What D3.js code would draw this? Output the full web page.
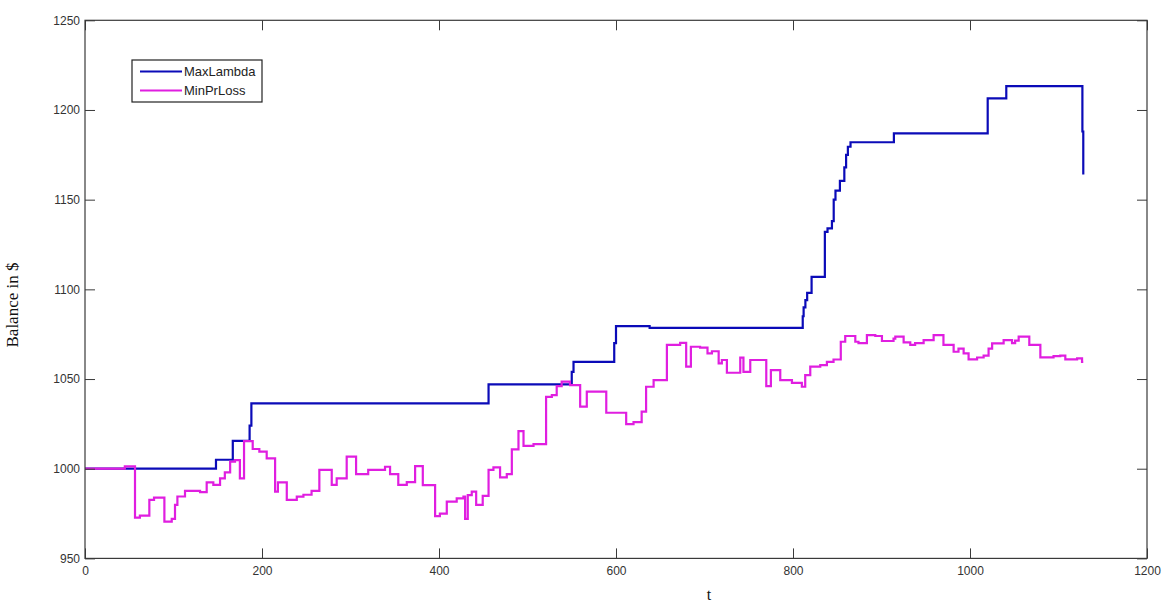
<!DOCTYPE html>
<html>
<head>
<meta charset="utf-8">
<script src="https://cdn.jsdelivr.net/npm/d3@7"></script>
<style>
  html, body { margin: 0; padding: 0; background: #fff; }
  svg { display: block; }
</style>
</head>
<body>
<svg id="chart" width="1162" height="606"></svg>
<script>
// ---- data ----
const seriesNames = ["MaxLambda", "MinPrLoss"];
const xTicks = [0, 200, 400, 600, 800, 1000, 1200];
const yTicks = [950, 1000, 1050, 1100, 1150, 1200, 1250];

const lambdaT = [0, 148, 167, 186, 188, 456, 550, 552, 598, 600, 638, 811, 812, 814, 816, 821, 836, 839, 844, 846, 848, 853, 858, 860, 862, 865, 914, 1020, 1041, 1127, 1128];
const lambdaV = [1000, 1005, 1015.5, 1024, 1036.4, 1047, 1054, 1059.6, 1070, 1079.5, 1078.5, 1085, 1090, 1094, 1098, 1107, 1132, 1134, 1138, 1150, 1155, 1160.5, 1168, 1175, 1179.5, 1182, 1187, 1206.5, 1213.3, 1188, 1164];

const lossT = [0, 45, 56.5, 62, 72.7, 78, 89.7, 98, 101.7, 104.4,
  113, 130, 137.5, 145, 152.6, 158, 164, 169.5, 175, 179.7,
  189.5, 197, 205.3, 214.8, 218, 228, 239.3, 246.8, 256, 264.8,
  278.8, 284.4, 295.7, 306.3, 320, 339, 344.7, 354, 363.6, 373,
  381.7, 395.6, 401, 408.8, 420, 427.6, 429.5, 432.5, 437, 442,
  449.4, 456, 461.5, 469, 476.6, 482.3, 489.8, 495.5, 506.8, 521,
  527.5, 533, 538.6, 548, 559.5, 567, 589, 611.5, 619.8, 629,
  634, 642.5, 657.5, 672.5, 679.3, 684.6, 695, 703.4, 708.4, 716,
  719.6, 725.3, 740.4, 744, 751.7, 769.8, 775, 785.6, 798.8, 810,
  813.8, 819.5, 830.8, 838.3, 845.8, 854, 859, 870.4, 874, 883.5,
  893, 900.5, 913.6, 915.6, 925, 932.5, 938, 947.6, 958.9, 970,
  981.5, 987, 992.8, 998.4, 1008, 1015.4, 1021, 1025, 1038, 1047.5,
  1051, 1055, 1067, 1079.5, 1094.4, 1102, 1107.7, 1121, 1126.6, 1128];
const lossV = [1000, 1001.3, 972.7, 973.8, 982.6, 983.9, 970.5, 972, 979.8, 984.5,
  987.6, 987, 992.4, 991, 994.6, 998, 1003.9, 1004.8, 994.6, 1015.4,
  1011, 1009.5, 1005.8, 987.2, 992.4, 982.6, 984.4, 985.5, 987.6, 999.3,
  991, 994.6, 1006.7, 997, 999.3, 1001.1, 997, 991, 992.5, 1001.5,
  990.9, 973.6, 975, 981.6, 983.5, 984.5, 972, 985.3, 987.2, 979.8,
  984.9, 999.3, 1000.7, 995.2, 997, 1010.8, 1021, 1012.7, 1013.7, 1040.1,
  1041, 1046.1, 1048.5, 1046.6, 1034.6, 1043, 1031.2, 1024.9, 1026, 1031.8,
  1045.7, 1049.4, 1069, 1070.2, 1056.9, 1068, 1067.5, 1064.3, 1065.5, 1058.7,
  1060.6, 1053.5, 1061.9, 1054, 1060.6, 1046.1, 1055, 1049.4, 1047.9, 1045.7,
  1052.2, 1056.9, 1057.8, 1059.6, 1060.9, 1070.8, 1074, 1070.8, 1070, 1074.5,
  1074, 1071.2, 1072.5, 1073.6, 1070.4, 1069, 1070, 1071.7, 1074.5, 1069,
  1065.2, 1067, 1064.3, 1061, 1062, 1063, 1067, 1069.9, 1071.7, 1070,
  1071.4, 1073.6, 1069, 1062.1, 1062.8, 1063, 1061, 1061.5, 1059.6, 1059.6];

// ---- layout ----
const L = 85, R = 1147, T = 20.3, B = 558.4;
const colors = ["#0b0bb8", "#e01ee0"];
const axisColor = "#3a3a3a";

const svg = d3.select("#chart");
const x = d3.scaleLinear().domain([0, 1200]).range([L, R]);
const y = d3.scaleLinear().domain([950, 1250]).range([B, T]);

// lines
const line = d3.line().x(d => x(d[0])).y(d => y(d[1])).curve(d3.curveStepAfter);
const lambdaData = lambdaT.map((t, i) => [t, lambdaV[i]]);
const lossData = lossT.map((t, i) => [t, lossV[i]]);

svg.append("path").datum(lambdaData).attr("d", line)
  .attr("fill", "none").attr("stroke", colors[0]).attr("stroke-width", 2.2);
svg.append("path").datum(lossData).attr("d", line)
  .attr("fill", "none").attr("stroke", colors[1]).attr("stroke-width", 2.2);

// axes
function styleAxis(g) {
  g.select(".domain").remove();
  g.selectAll(".tick line").attr("stroke", axisColor);
  g.selectAll(".tick text").attr("fill", "#333").style("font-family", "'Liberation Sans', Arial, sans-serif").style("font-size", "12px");
}
svg.append("g").attr("transform", `translate(0,${B})`)
  .call(d3.axisBottom(x).tickValues(xTicks).tickFormat(d3.format("d")).tickSizeInner(-10).tickSizeOuter(0).tickPadding(8))
  .call(styleAxis);
svg.append("g").attr("transform", `translate(0,${T})`)
  .call(d3.axisTop(x).tickValues(xTicks).tickFormat("").tickSizeInner(-10).tickSizeOuter(0))
  .call(styleAxis);
svg.append("g").attr("transform", `translate(${L},0)`)
  .call(d3.axisLeft(y).tickValues(yTicks).tickFormat(d3.format("d")).tickSizeInner(-10).tickSizeOuter(0).tickPadding(5))
  .call(styleAxis);
svg.append("g").attr("transform", `translate(${R},0)`)
  .call(d3.axisRight(y).tickValues(yTicks).tickFormat("").tickSizeInner(-10).tickSizeOuter(0))
  .call(styleAxis);

// box
svg.append("rect").attr("x", L).attr("y", T).attr("width", R - L).attr("height", B - T)
  .attr("fill", "none").attr("stroke", axisColor).attr("stroke-width", 1.2);

// axis labels
svg.append("text").attr("x", 709).attr("y", 600).attr("text-anchor", "middle")
  .style("font-family", "'Liberation Serif', 'Times New Roman', serif").style("font-size", "16px").attr("fill", "#111")
  .text("t");
svg.append("text").attr("transform", "translate(18,305) rotate(-90)").attr("text-anchor", "middle")
  .style("font-family", "'Liberation Serif', 'Times New Roman', serif").style("font-size", "17px").attr("fill", "#111")
  .text("Balance in $");

// legend
const lg = svg.append("g");
lg.append("rect").attr("x", 132).attr("y", 60).attr("width", 130).attr("height", 42)
  .attr("fill", "#fff").attr("stroke", "#222").attr("stroke-width", 1.2);
seriesNames.forEach((name, i) => {
  const yy = 71.5 + i * 19;
  lg.append("line").attr("x1", 140).attr("x2", 182).attr("y1", yy).attr("y2", yy)
    .attr("stroke", colors[i]).attr("stroke-width", 2);
  lg.append("text").attr("x", 184).attr("y", yy).attr("dy", "0.35em")
    .style("font-family", "'Liberation Sans', Arial, sans-serif").style("font-size", "13px").attr("fill", "#222")
    .text(name);
});
</script>
</body>
</html>
